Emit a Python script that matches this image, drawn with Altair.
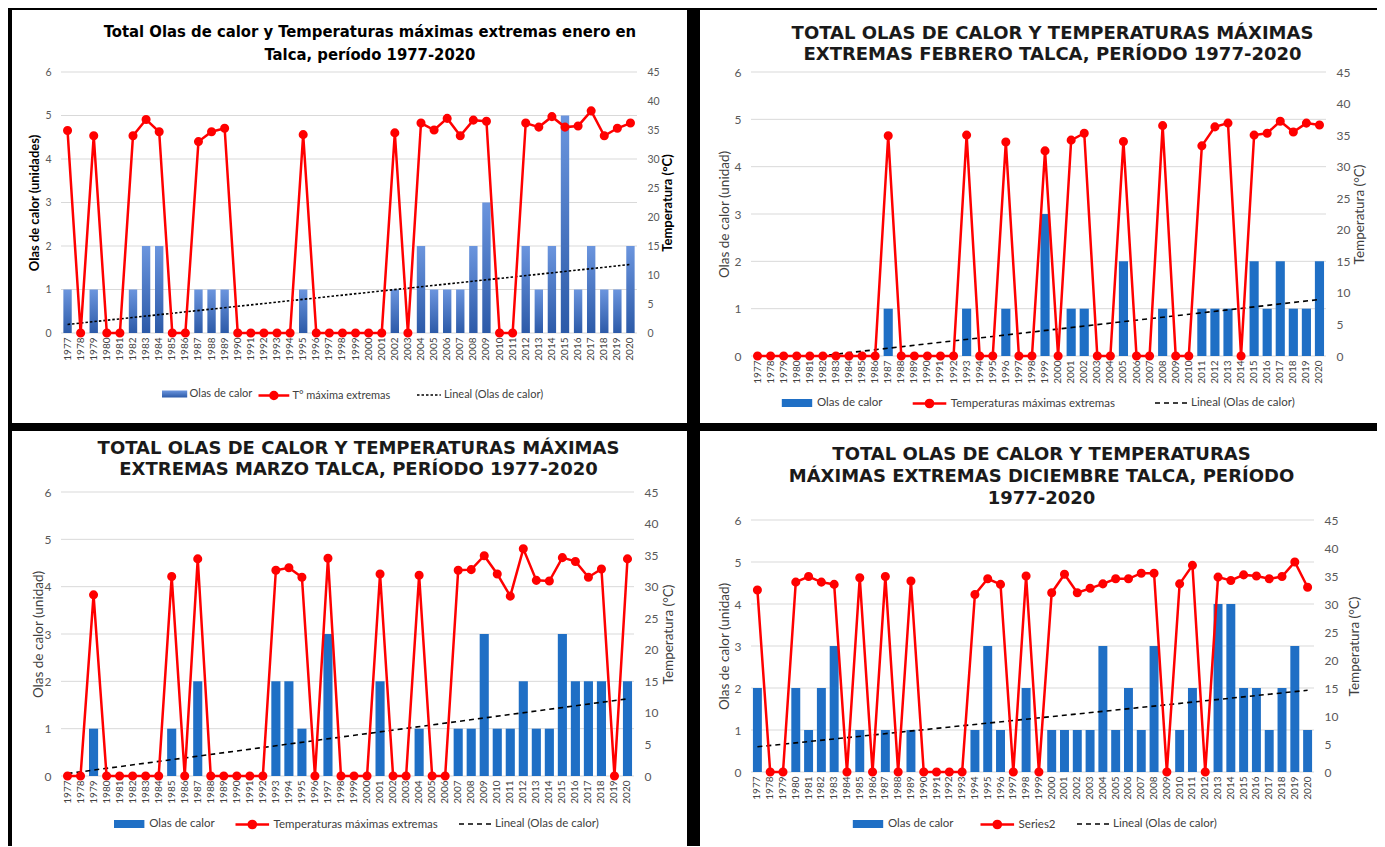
import altair as alt
import pandas as pd

years = [str(y) for y in range(1977, 2021)]
year_num = list(range(1977, 2021))
grid_vals = [0, 1, 2, 3, 4, 5, 6]
temp_ticks = list(range(0, 46, 5))

# Enero
ene_olas = [1, 0, 1, 0, 0, 1, 2, 2, 0, 0, 1, 1, 1, 0, 0, 0, 0, 0, 1, 0, 0, 0,
            0, 0, 0, 1, 0, 2, 1, 1, 1, 2, 3, 0, 0, 2, 1, 2, 5, 1, 2, 1, 1, 2]
ene_temp = [34.9, 0, 34.0, 0, 0, 34.0, 36.8, 34.7, 0, 0, 33.0, 34.7, 35.3, 0, 0, 0, 0, 0, 34.2, 0, 0, 0,
            0, 0, 0, 34.5, 0, 36.2, 35.0, 37.0, 34.0, 36.7, 36.5, 0, 0, 36.2, 35.5, 37.3, 35.5, 35.7, 38.3, 34.0, 35.3, 36.2]
# Febrero
feb_olas = [0, 0, 0, 0, 0, 0, 0, 0, 0, 0, 1, 0, 0, 0, 0, 0, 1, 0, 0, 1, 0, 0,
            3, 0, 1, 1, 0, 0, 2, 0, 0, 1, 0, 0, 1, 1, 1, 0, 2, 1, 2, 1, 1, 2]
feb_temp = [0, 0, 0, 0, 0, 0, 0, 0, 0, 0, 34.9, 0, 0, 0, 0, 0, 35.0, 0, 0, 33.9, 0, 0,
            32.5, 0, 34.2, 35.3, 0, 0, 34.0, 0, 0, 36.5, 0, 0, 33.3, 36.3, 36.9, 0, 35.0, 35.3, 37.2, 35.5, 36.9, 36.6]
# Marzo
mar_olas = [0, 0, 1, 0, 0, 0, 0, 0, 1, 0, 2, 0, 0, 0, 0, 0, 2, 2, 1, 0, 3, 0,
            0, 0, 2, 0, 0, 1, 0, 0, 1, 1, 3, 1, 1, 2, 1, 1, 3, 2, 2, 2, 0, 2]
mar_temp = [0, 0, 28.7, 0, 0, 0, 0, 0, 31.6, 0, 34.4, 0, 0, 0, 0, 0, 32.6, 33.0, 31.5, 0, 34.5, 0,
            0, 0, 32.0, 0, 0, 31.8, 0, 0, 32.6, 32.7, 34.9, 32.0, 28.5, 36.0, 31.0, 30.9, 34.6, 34.0, 31.5, 32.8, 0, 34.4]
# Diciembre
dic_olas = [2, 0, 0, 2, 1, 2, 3, 0, 1, 0, 1, 0, 1, 0, 0, 0, 0, 1, 3, 1, 0, 2,
            0, 1, 1, 1, 1, 3, 1, 2, 1, 3, 0, 1, 2, 0, 4, 4, 2, 2, 1, 2, 3, 1]
dic_temp = [32.5, 0, 0, 33.9, 34.9, 33.9, 33.5, 0, 34.7, 0, 34.9, 0, 34.1, 0, 0, 0, 0, 31.7, 34.5, 33.5, 0, 35.0,
            0, 32.0, 35.3, 32.0, 32.8, 33.6, 34.5, 34.5, 35.5, 35.5, 0, 33.6, 36.9, 0, 34.8, 34.2, 35.2, 35.0, 34.5, 34.9, 37.5, 33.0]

for arr in (ene_olas, ene_temp, feb_olas, feb_temp, mar_olas, mar_temp, dic_olas, dic_temp):
    assert len(arr) == 44, len(arr)

FONT = "Lato"
NARROW = "DejaVu Sans Condensed, Liberation Sans"
CAPS = "DejaVu Sans"

RECT1 = "M-1.8,-0.5H1.8V0.5H-1.8Z"
LINE1 = "M-2.2,0H2.2M-0.5,0A0.5,0.5 0 1 1 0.5,0A0.5,0.5 0 1 1 -0.5,0"
DASH1 = "M-1.7,0H1.7"
RECT2 = "M-1.9,-0.5H1.9V0.5H-1.9Z"
LINE2 = "M-2.1,0H2.1M-0.45,0A0.45,0.45 0 1 1 0.45,0A0.45,0.45 0 1 1 -0.45,0"
DASH2 = "M-2,0H2"

GRAD = alt.Gradient(gradient="linear", x1=0, x2=0, y1=0, y2=1,
                    stops=[alt.GradientStop(color="#6b95de", offset=0),
                           alt.GradientStop(color="#2c5aa8", offset=1)])

panels = [
    dict(olas=ene_olas, temp=ene_temp, w=576, h=261, rect=(-49, 626, -62, 351),
         title=["Total Olas de calor y Temperaturas máximas extremas enero en", "Talca, período 1977-2020"],
         tfont=NARROW, tsize=16.5, tlh=23, toff=-53, tdx=21, tcolor="#000000",
         bar="#4472c4", gradient=True, pad=0.36, dash=[2.5, 2],
         ltitle="Olas de calor (unidades)", rtitle="Temperatura (°C)", atw="bold", atsize=13, atcolor="#000000",
         ltx=-27, rtx=30, lab=10.5, labcol="#595959",
         leg_y=315, leg_fs=11, s=196,
         paths=(RECT1, LINE1, DASH1), legx=(106.6, 204.4, 359.9), loff=(8, 10, 7),
         names=("Olas de calor", "T° máxima extremas", "Lineal (Olas de calor)")),
    dict(olas=feb_olas, temp=feb_temp, w=575, h=284, rect=(-51, 626, -62, 351),
         title=["TOTAL OLAS DE CALOR Y TEMPERATURAS MÁXIMAS", "EXTREMAS FEBRERO TALCA, PERÍODO 1977-2020"],
         tfont=CAPS, tsize=18, tlh=21, toff=-54, tdx=14, tcolor="#1a1a1a",
         bar="#1f6fc5", gradient=False, pad=0.3, dash=[5, 4],
         ltitle="Olas de calor (unidad)", rtitle="Temperatura (°C)", atw="normal", atsize=13.5, atcolor="#404040",
         ltx=-27, rtx=33, lab=12, labcol="#595959",
         leg_y=322, leg_fs=11.5, s=256,
         paths=(RECT2, LINE2, DASH2), legx=(37, 169, 411), loff=(11, 11.8, 11),
         names=("Olas de calor", "Temperaturas máximas extremas", "Lineal (Olas de calor)")),
    dict(olas=mar_olas, temp=mar_temp, w=573, h=284, rect=(-49, 626, -61, 354),
         title=["TOTAL OLAS DE CALOR Y TEMPERATURAS MÁXIMAS", "EXTREMAS MARZO TALCA, PERÍODO 1977-2020"],
         tfont=CAPS, tsize=18, tlh=21, toff=-48, tdx=11, tcolor="#1a1a1a",
         bar="#1f6fc5", gradient=False, pad=0.3, dash=[5, 4],
         ltitle="Olas de calor (unidad)", rtitle="Temperatura (°C)", atw="normal", atsize=13.5, atcolor="#404040",
         ltx=-23, rtx=34, lab=12, labcol="#595959",
         leg_y=323, leg_fs=11.5, s=256,
         paths=(RECT2, LINE2, DASH2), legx=(59.2, 181.8, 405), loff=(11, 11.8, 11),
         names=("Olas de calor", "Temperaturas máximas extremas", "Lineal (Olas de calor)")),
    dict(olas=dic_olas, temp=dic_temp, w=563, h=252, rect=(-51, 626, -89, 326),
         title=["TOTAL OLAS DE CALOR Y TEMPERATURAS", "MÁXIMAS EXTREMAS DICIEMBRE TALCA, PERÍODO", "1977-2020"],
         tfont=CAPS, tsize=18, tlh=22, toff=-77, tdx=9, tcolor="#1a1a1a",
         bar="#1f6fc5", gradient=False, pad=0.3, dash=[5, 4],
         ltitle="Olas de calor (unidad)", rtitle="Temperatura (°C)", atw="normal", atsize=13.5, atcolor="#404040",
         ltx=-27, rtx=40, lab=12, labcol="#595959",
         leg_y=295, leg_fs=11.5, s=256,
         paths=(RECT2, LINE2, DASH2), legx=(108, 236.8, 333), loff=(11, 11.8, 11),
         names=("Olas de calor", "Series2", "Lineal (Olas de calor)")),
]


def legend(c, i, **kw):
    return alt.Legend(title=None, orient="none", legendX=c["legx"][i], legendY=c["leg_y"],
                      symbolType=c["paths"][i], symbolSize=c["s"], labelFont=FONT,
                      labelFontSize=c["leg_fs"], labelColor="#404040", labelOffset=c["loff"][i],
                      labelLimit=400, padding=0, **kw)


def build(c):
    df = pd.DataFrame({"year": years, "yn": year_num, "olas": c["olas"], "temp": c["temp"]})
    base = alt.Chart(df)
    xscale = alt.Scale(domain=years, paddingInner=c["pad"], paddingOuter=c["pad"] / 2)
    xaxis = alt.Axis(title=None, labelAngle=270, labelFont=FONT, labelFontSize=10, labelColor="#404040",
                     labelPadding=4, ticks=False, domain=False, labelOverlap=False, zindex=1)
    x = alt.X("year:O", scale=xscale, axis=xaxis)
    laxis = alt.Axis(orient="left", values=grid_vals, grid=False, zindex=1,
                     domain=False, ticks=False, labelFont=FONT, labelFontSize=c["lab"],
                     labelColor=c["labcol"], labelPadding=10,
                     title=c["ltitle"], titleFont=FONT, titleFontSize=c["atsize"], titleFontWeight=c["atw"],
                     titleColor=c["atcolor"], titleAngle=270, titleX=c["ltx"], titleY=c["h"] / 2,
                     titleAlign="center", titleBaseline="middle")
    raxis = alt.Axis(orient="right", values=temp_ticks, grid=False, domain=False, ticks=False, zindex=1,
                     labelFont=FONT, labelFontSize=c["lab"], labelColor=c["labcol"], labelPadding=10,
                     title=c["rtitle"], titleFont=FONT, titleFontSize=c["atsize"], titleFontWeight=c["atw"],
                     titleColor=c["atcolor"], titleAngle=270, titleX=c["rtx"], titleY=c["h"] / 2,
                     titleAlign="center", titleBaseline="middle")
    lscale = alt.Scale(domain=[0, 6])
    ly = alt.Y("olas:Q", scale=lscale, axis=laxis)
    ry = alt.Y("temp:Q", scale=alt.Scale(domain=[0, 45]), axis=raxis)

    bg = alt.Chart(pd.DataFrame({"k": [0]})).mark_rect(color="white").encode(
        x=alt.value(c["rect"][0]), x2=alt.value(c["rect"][1]),
        y=alt.value(c["rect"][2]), y2=alt.value(c["rect"][3]))

    grid = alt.Chart(pd.DataFrame({"olas": grid_vals})).mark_rule(
        color="#d9d9d9", strokeWidth=1).encode(y=ly)

    bars_base = base.transform_calculate(s1="'%s'" % c["names"][0])
    if c["gradient"]:
        bars = bars_base.mark_bar(color=GRAD).encode(
            x=x, y=ly,
            opacity=alt.Opacity("s1:N", scale=alt.Scale(domain=[c["names"][0]], range=[1]),
                                legend=legend(c, 0, symbolFillColor=c["bar"], symbolStrokeWidth=0)))
    else:
        bars = bars_base.mark_bar().encode(
            x=x, y=ly,
            fill=alt.Fill("s1:N", scale=alt.Scale(domain=[c["names"][0]], range=[c["bar"]]),
                          legend=legend(c, 0)))
    trend = base.transform_regression("yn", "olas").transform_calculate(
        year="'' + datum.yn", s3="'%s'" % c["names"][2]).mark_line(
        color="black", strokeWidth=1.6, clip=True).encode(
        x=x, y=ly,
        strokeDash=alt.StrokeDash("s3:N", scale=alt.Scale(domain=[c["names"][2]], range=[c["dash"]]),
                                  legend=legend(c, 2, symbolStrokeColor="black", symbolStrokeWidth=1.6)))
    line = base.mark_line(color="#ff0000", strokeWidth=2.5).encode(x=x, y=ry)
    pts = base.transform_calculate(s2="'%s'" % c["names"][1]).mark_circle(
        color="#ff0000", size=50, opacity=1).encode(
        x=x, y=ry,
        stroke=alt.Stroke("s2:N", scale=alt.Scale(domain=[c["names"][1]], range=["#ff0000"]),
                          legend=legend(c, 1, symbolFillColor="#ff0000", symbolStrokeColor="#ff0000",
                                        symbolStrokeWidth=2.5)))

    return alt.layer(bg, alt.layer(grid, bars, trend), alt.layer(line, pts)).resolve_scale(
        y="independent").properties(
        width=c["w"], height=c["h"],
        title=alt.Title(text=c["title"], font=c["tfont"], fontSize=c["tsize"], fontWeight="bold",
                        color=c["tcolor"], anchor="middle", offset=c["toff"], dx=c["tdx"],
                        lineHeight=c["tlh"]))


p1, p2, p3, p4 = [build(c) for c in panels]
indep = dict(fill="independent", stroke="independent", strokeDash="independent", opacity="independent")
left_col = alt.vconcat(p1, p3, spacing=8).resolve_scale(**indep)
right_col = alt.vconcat(p2, p4, spacing=8).resolve_scale(**indep)
chart = alt.hconcat(left_col, right_col, spacing=13).resolve_scale(**indep).properties(
    background="black",
    padding={"left": 4, "top": 2, "right": 0, "bottom": 0},
).configure_view(strokeWidth=0)

chart.save("out.html", embed_options={"renderer": "svg", "actions": False})
